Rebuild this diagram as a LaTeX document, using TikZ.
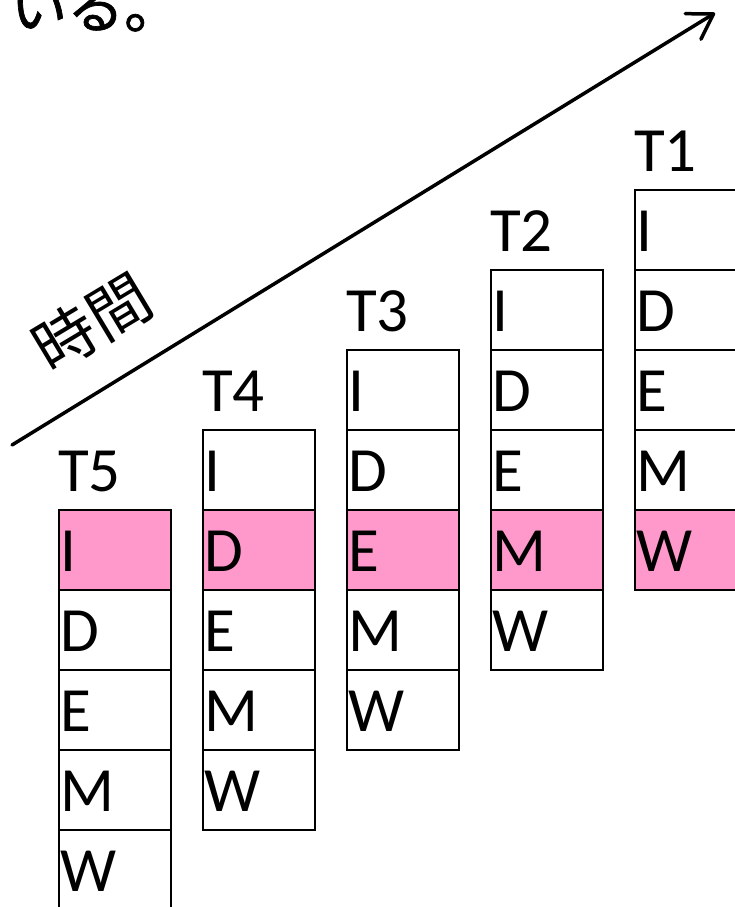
\documentclass[tikz,border=0pt]{standalone}
\usepackage{fontspec}
\setmainfont{Carlito}
\newfontfamily\jpfont{Noto Sans CJK JP}
\newfontfamily\jpmed[FakeBold=1.2]{Noto Sans CJK JP}
\usetikzlibrary{arrows.meta}
\definecolor{hlpink}{RGB}{255,153,204}
\tikzset{
  cellbox/.style={draw=black, line width=2pt, minimum width=112pt, minimum height=80pt,
    inner sep=0pt, outer sep=0pt, anchor=north west},
  celltext/.style={anchor=base west, inner sep=0pt, font=\fontsize{63}{70}\selectfont},
  collabel/.style={anchor=base west, inner sep=0pt, font=\fontsize{63}{70}\selectfont},
  timearrow/.style={line width=3.5pt, line cap=round, -{Straight Barb[length=24pt,width=30pt,line width=3.5pt,round]}},
  jptext/.style={inner sep=0pt}
}
\begin{document}
\begin{tikzpicture}[x=1pt,y=-1pt]
\useasboundingbox (0,0) rectangle (734,907);
% top text
\node[jptext, anchor=base west, font=\jpmed\fontsize{57}{64}\selectfont] (toptext) at (10,28) {いる。};
% time arrow
\coordinate (tstart) at (12,445);
\coordinate (tend) at (715,13);
\draw[timearrow] (tstart) -- (tend);
\node[jptext, font=\jpfont\fontsize{62}{66}\selectfont, rotate=31] (jikan) at (92,322) {時間};
% columns
\foreach \c in {1,...,5}{
  \pgfmathsetmacro{\colx}{59+(5-\c)*144}
  \pgfmathsetmacro{\coly}{510-(5-\c)*80}
  \pgfmathtruncatemacro{\pinkrow}{6-\c}
  \node[collabel] (lab\c) at (\colx-1,\coly-19) {T\c};
  \foreach \r/\t in {1/I,2/D,3/E,4/M,5/W}{
    \pgfmathsetmacro{\celly}{\coly+(\r-1)*80}
    \ifnum\r=\pinkrow
      \node[cellbox, fill=hlpink] (cell\c\r) at (\colx,\celly) {};
    \else
      \node[cellbox] (cell\c\r) at (\colx,\celly) {};
    \fi
    \node[celltext] (txt\c\r) at ([shift={(1,61)}]cell\c\r.north west) {\t};
  }
}
\end{tikzpicture}
\end{document}
